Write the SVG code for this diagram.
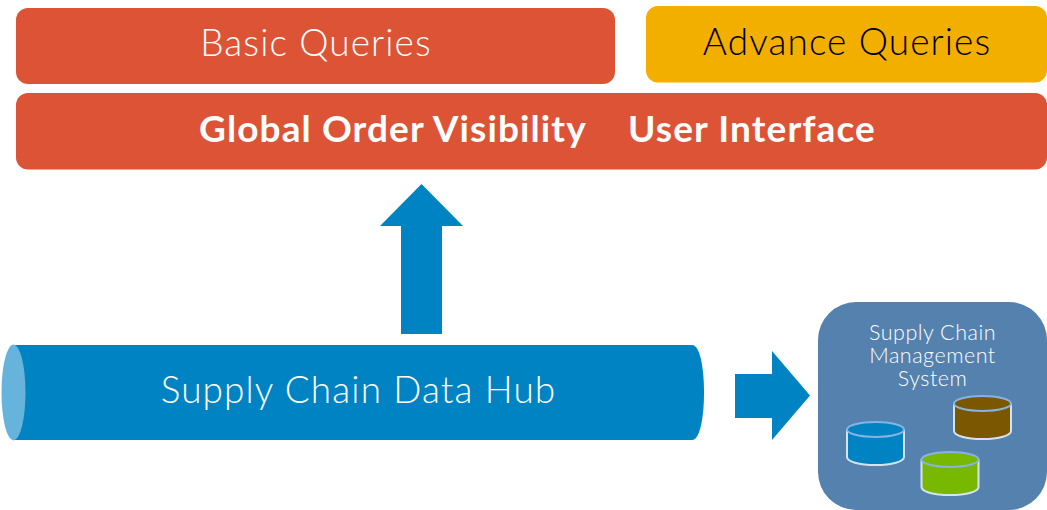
<svg xmlns="http://www.w3.org/2000/svg" width="1047" height="510" viewBox="0 0 1047 510">
<style>
text{font-family:Lato,"Open Sans","Liberation Sans",sans-serif;text-anchor:middle}
.l{font-weight:300}
.big{font-size:37px;letter-spacing:1.1px}
.red{fill:#dd5335}
.blue{fill:#0083c3}
.rim{stroke:#85b3e2;stroke-width:2}
.side{stroke:#d5e3f0;stroke-width:2}
</style>
<rect width="1047" height="510" fill="#fff"/>
<g id="basic-queries"><rect class="red" x="16" y="8" width="599" height="76" rx="12"/><text class="l big" x="316" y="56" fill="#fff">Basic Queries</text></g>
<g id="advance-queries"><rect x="646" y="6" width="401" height="76.500" rx="12" fill="#f3af00"/><text class="l big" x="847" y="55" fill="#000">Advance Queries</text></g>
<g id="global-order"><rect class="red" x="16" y="93" width="1031" height="76.500" rx="12"/><text class="big" y="142" font-weight="700" fill="#fff" style="text-anchor:start"><tspan x="199">Global Order Visibility</tspan><tspan x="618"> User Interface</tspan></text></g>
<g id="connectors">
<polygon class="blue" points="421.500,184 463,226 442,226 442,334 401,334 401,226 380,226"/>
<polygon class="blue" points="735,374 772,374 772,351 810,395.500 772,440 772,418 735,418"/>
</g>
<g id="data-hub">
<path class="blue" d="M13.500 345H692C700 345 704 368 704 392.500S700 440 692 440H13.500Z"/>
<ellipse cx="13.500" cy="392.500" rx="12" ry="48" fill="#66b3db"/>
<text class="l big" x="358.500" y="403" fill="#fff">Supply Chain Data Hub</text>
</g>
<g id="scm-system">
<rect x="818" y="302" width="229" height="208" rx="38" fill="#5481ad"/>
<text class="l" font-size="21.500" letter-spacing=".5" fill="#fff"><tspan x="932.500" y="340">Supply Chain</tspan><tspan x="932.500" y="363">Management</tspan><tspan x="932.500" y="386">System</tspan></text>
<g id="db-blue"><path class="side blue" d="M847 429V457C847 461.500 859 465 875.500 465S904 461.500 904 457V429"/><ellipse class="rim blue" cx="875.500" cy="429.500" rx="28.500" ry="7.500"/></g>
<g id="db-brown"><path class="side" fill="#7a5700" d="M954 403V431C954 435.500 966 439 982.500 439S1011 435.500 1011 431V403"/><ellipse class="rim" fill="#7a5700" cx="982.500" cy="403.500" rx="28.500" ry="7.500"/></g>
<g id="db-green"><path class="side" fill="#79b800" d="M921.500 459V487C921.500 491.500 933 495 950 495S978.500 491.500 978.500 487V459"/><ellipse class="rim" fill="#79b800" cx="950" cy="459.500" rx="28.500" ry="7.500"/></g>
</g>
</svg>
